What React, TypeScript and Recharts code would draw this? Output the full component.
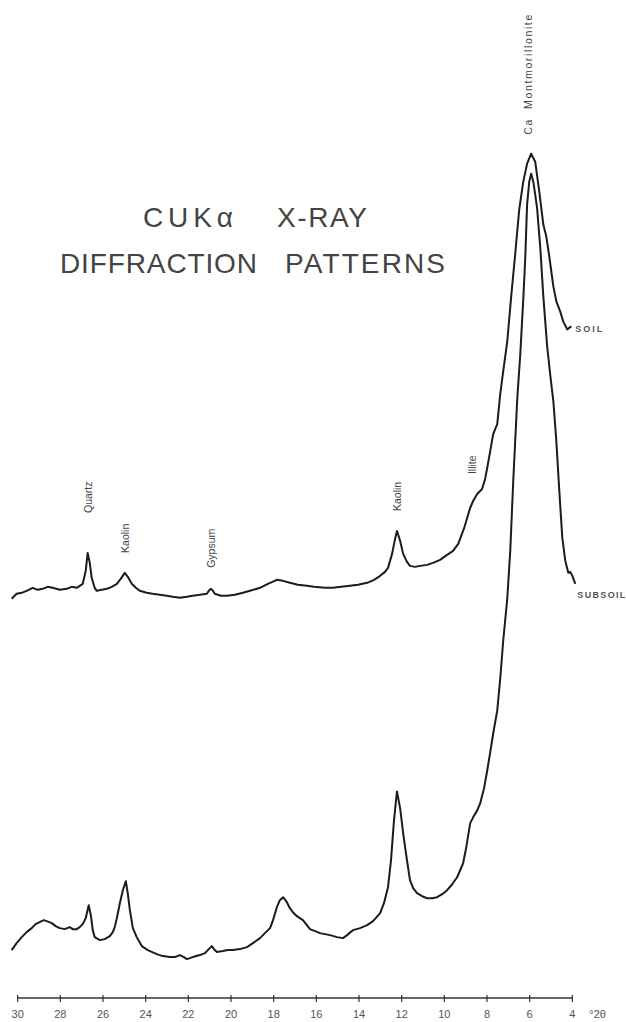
import React from 'react';
import { LineChart, Line, XAxis, YAxis, ReferenceLine, ReferenceDot } from 'recharts';

// Degrees 2-theta (x) and relative intensity (arbitrary units)
const soilTwoTheta = [30.28,30.05,29.81,29.58,29.30,29.06,28.83,28.59,28.36,28.03,
  27.70,27.47,27.23,26.95,26.81,26.72,26.62,26.53,26.39,26.29,
  26.06,25.82,25.59,25.35,25.17,24.98,24.84,24.65,24.46,24.28,
  23.95,23.67,23.34,23.01,22.73,22.40,22.07,21.79,21.46,21.13,
  21.04,20.94,20.85,20.76,20.47,20.19,19.82,19.44,19.11,18.64,
  18.27,17.85,17.56,17.24,16.86,16.44,16.11,15.59,15.22,14.84,
  14.42,14.05,13.62,13.29,13.01,12.78,12.64,12.45,12.31,12.22,
  12.07,11.93,11.75,11.61,11.37,11.14,10.81,10.53,10.20,9.87,
  9.59,9.35,9.26,9.07,8.93,8.79,8.65,8.46,8.23,8.09,
  7.99,7.85,7.71,7.52,7.38,7.24,7.05,6.87,6.68,6.49,
  6.30,6.12,5.93,5.74,5.55,5.36,5.22,5.08,4.89,4.75,
  4.57,4.43,4.24,4.05];
const soilIntensity = [400,405,406,408,411,409,410,412,411,409,
  410,412,411,415,428,446,436,421,411,408,
  409,410,412,415,420,426,422,415,411,408,
  406,405,404,403,402,401,402,403,404,405,
  408,410,408,405,403,403,404,406,408,411,
  415,419,418,416,414,413,412,411,411,412,
  413,414,416,419,423,427,431,445,460,468,
  458,445,437,433,432,433,434,436,439,444,
  448,455,460,471,481,491,498,505,510,520,
  531,548,565,575,605,628,658,702,745,790,
  818,836,846,838,808,775,763,743,713,698,
  688,678,670,673];

const subsoilTwoTheta = [30.28,30.05,29.81,29.58,29.34,29.16,28.97,28.78,28.64,28.40,
  28.22,28.03,27.79,27.56,27.42,27.23,27.09,26.95,26.81,26.67,
  26.57,26.48,26.39,26.15,25.92,25.68,25.54,25.45,25.35,25.21,
  25.07,24.93,24.84,24.74,24.60,24.42,24.18,23.90,23.48,23.20,
  22.87,22.63,22.40,22.21,22.07,21.79,21.46,21.22,21.04,20.90,
  20.76,20.66,20.38,20.15,19.91,19.58,19.25,18.97,18.64,18.41,
  18.17,18.03,17.85,17.71,17.56,17.38,17.24,17.10,16.91,16.63,
  16.44,16.30,16.06,15.83,15.36,15.03,14.75,14.56,14.28,13.95,
  13.62,13.34,13.01,12.83,12.64,12.50,12.36,12.22,12.07,11.93,
  11.75,11.61,11.46,11.28,11.04,10.81,10.57,10.34,10.10,9.87,
  9.63,9.40,9.26,9.12,8.98,8.79,8.65,8.46,8.32,8.13,
  7.99,7.85,7.71,7.52,7.38,7.24,7.15,7.05,6.91,6.77,
  6.58,6.44,6.30,6.21,6.12,6.02,5.93,5.83,5.74,5.65,
  5.50,5.36,5.18,5.04,4.89,4.75,4.61,4.47,4.33,4.19,
  4.10,4.00,3.86];
const subsoilIntensity = [48,55,61,66,70,74,76,78,77,75,
  72,70,69,71,69,69,71,74,80,93,
  83,68,61,58,59,62,66,71,80,95,
  108,117,105,88,70,61,52,48,44,42,
  41,41,43,41,39,41,43,45,49,52,
  48,46,47,48,48,49,51,55,60,65,
  70,78,91,98,101,96,90,86,82,78,
  73,69,67,65,63,61,60,63,68,70,
  73,77,85,95,111,138,178,207,190,165,
  138,118,110,105,102,100,100,101,104,108,
  114,121,128,135,150,175,181,188,195,211,
  228,246,265,288,320,358,378,400,448,518,
  601,645,700,740,795,818,826,818,805,791,
  751,703,653,625,598,558,508,461,438,426,
  427,423,415];

const axisTicks = [30, 28, 26, 24, 22, 20, 18, 16, 14, 12, 10, 8, 6, 4];

const peakNames = ['Quartz', 'Kaolin', 'Gypsum', 'Kaolin', 'Illite', 'Ca  Montmorillonite'];
const peakTwoTheta = [26.72, 24.98, 20.94, 12.22, 8.70, 6.07];
const peakLabelLevel = [486, 446, 431, 488, 525, 865];

const soilData = soilTwoTheta.map((t, i) => ({ t, v: soilIntensity[i] }));
const subsoilData = subsoilTwoTheta.map((t, i) => ({ t, v: subsoilIntensity[i] }));

const FONT = 'Liberation Sans, Arial, sans-serif';

const AxisTick = (props: any) => {
  const { x, y, payload } = props;
  return (
    <g>
      <line x1={x} x2={x} y1={y - 3} y2={y + 4} stroke="#333" strokeWidth={1.2} />
      <text x={x} y={y + 20} textAnchor="middle" fontSize={11} fill="#555" fontFamily={FONT}>
        {payload.value}
      </text>
      {payload.value === 4 && (
        <text x={x + 17} y={y + 20} fontSize={11} fill="#555" fontFamily={FONT}>°2θ</text>
      )}
    </g>
  );
};

const verticalTag = (text: string, long: boolean) => (props: any) => {
  const vb = props.viewBox || {};
  const cx = (vb.x || 0) + (vb.width || 0) / 2 + 4;
  const cy = (vb.y || 0) + (vb.height || 0) / 2;
  return (
    <text x={cx} y={cy} transform={`rotate(-90 ${cx} ${cy})`} fontSize={10.5} fill="#444"
      fontFamily={FONT} style={{ whiteSpace: 'pre' }}
      {...(long ? { textLength: 120, lengthAdjust: 'spacing' } : {})}>
      {text}
    </text>
  );
};

const endTag = (text: string, len: number, dx: number, dy: number) => (props: any) => {
  const vb = props.viewBox || {};
  const cx = (vb.x || 0) + (vb.width || 0) / 2 + dx;
  const cy = (vb.y || 0) + (vb.height || 0) / 2 + dy;
  return (
    <text x={cx} y={cy} fontSize={9} fontWeight={700} fill="#555" fontFamily={FONT}
      textLength={len} lengthAdjust="spacing">
      {text}
    </text>
  );
};

export default function App() {
  const last = soilData.length - 1;
  const lastSub = subsoilData.length - 1;
  return (
    <div style={{ position: 'absolute', left: 0, top: 0, width: 626, height: 1022, background: '#fff' }}>
      <LineChart width={626} height={1022} margin={{ top: 0, right: 43, bottom: 0, left: 7 }}>
        <XAxis type="number" dataKey="t" domain={[3.5, 30.5]} reversed ticks={axisTicks}
          axisLine={false} tickLine={false} tickSize={0} tickMargin={0} height={24}
          tick={<AxisTick />} interval={0} allowDataOverflow />
        <YAxis type="number" domain={[0, 1000]} hide allowDataOverflow />
        <ReferenceLine segment={[{ x: 30, y: 0 }, { x: 4, y: 0 }]} stroke="#333" strokeWidth={1.5} ifOverflow="visible" />
        <Line data={soilData} dataKey="v" type="linear" stroke="#1c1c1c" strokeWidth={2}
          dot={false} isAnimationActive={false} strokeLinejoin="round" />
        <Line data={subsoilData} dataKey="v" type="linear" stroke="#1c1c1c" strokeWidth={2}
          dot={false} isAnimationActive={false} strokeLinejoin="round" />
        {peakNames.map((name, i) => (
          <ReferenceDot key={i} x={peakTwoTheta[i]} y={peakLabelLevel[i]} r={1} fill="none" stroke="none"
            ifOverflow="visible" label={verticalTag(name, i === peakNames.length - 1)} />
        ))}
        <ReferenceDot x={soilData[last].t} y={soilData[last].v} r={1} fill="none" stroke="none"
          ifOverflow="visible" label={endTag('SOIL', 27, 4, 6)} />
        <ReferenceDot x={subsoilData[lastSub].t} y={subsoilData[lastSub].v} r={1} fill="none" stroke="none"
          ifOverflow="visible" label={endTag('SUBSOIL', 48, 2, 14)} />
      </LineChart>
      <svg width={626} height={300} style={{ position: 'absolute', left: 0, top: 0, pointerEvents: 'none' }}>
        <g fontFamily={FONT} fontSize={28} fill="#444">
          <text x={143} y={227} textLength={90} lengthAdjust="spacing">CUKα</text>
          <text x={277} y={227} textLength={90} lengthAdjust="spacing">X-RAY</text>
          <text x={60} y={273} textLength={197} lengthAdjust="spacing">DIFFRACTION</text>
          <text x={285} y={273} textLength={160} lengthAdjust="spacing">PATTERNS</text>
        </g>
      </svg>
    </div>
  );
}
